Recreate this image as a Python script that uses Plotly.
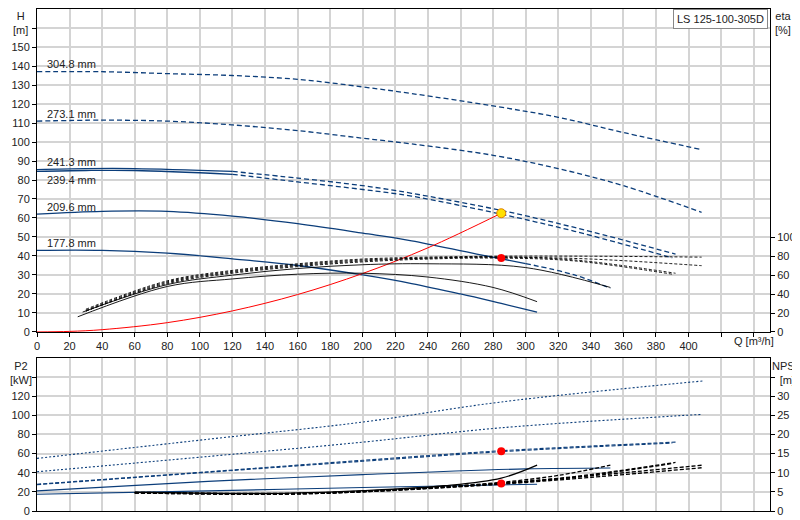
import plotly.graph_objects as go

BLUE = "#0b3d7a"
# Impeller diameters
labels = ["304.8 mm", "273.1 mm", "241.3 mm", "239.4 mm", "209.6 mm", "177.8 mm"]

# H-Q curves
hq_q = [
    [0, 40, 80, 120, 160, 200, 230, 280, 320, 360, 408],
    [0, 40, 80, 120, 160, 200, 230, 280, 320, 360, 408],
    [0, 30, 60, 120, 160, 200, 230, 285, 330, 392],
    [0, 30, 60, 120, 160, 200, 230, 285, 330, 390],
    [0, 40, 80, 120, 160, 200, 230, 270, 300, 330, 352],
    [0, 40, 80, 120, 160, 200, 230, 260, 285, 307],
]
hq_h = [
    [137, 137, 136, 135, 133, 129, 125.5, 119, 113, 105, 96],
    [111, 111.5, 111, 109, 106, 102, 99, 93, 86, 77, 63],
    [85.5, 86, 86, 84.5, 81, 77, 73, 64, 55, 41],
    [84.5, 85, 85, 83, 79, 75, 71.5, 62, 53, 39],
    [62, 63.5, 63.5, 61, 57, 52, 48, 41, 36, 30, 23],
    [43, 43, 41.5, 38.5, 35, 30, 25.5, 20, 15, 10.5],
]
solid_until = [0, 0, 120, 120, 300, 400]

# Efficiency curves
eta_q = [
    [30, 80, 120, 160, 200, 240, 285, 340, 408],
    [30, 80, 120, 160, 200, 240, 285, 340, 408],
    [30, 80, 120, 160, 200, 240, 285, 330, 392],
    [30, 80, 120, 160, 200, 240, 285, 330, 390],
    [28, 80, 120, 160, 200, 240, 300, 352],
    [25, 80, 120, 160, 200, 240, 280, 307],
]
eta_v = [
    [24, 54, 65, 72, 77, 79, 80, 80, 79],
    [23, 53, 64, 71, 76, 78, 79, 77, 70],
    [22, 52, 63, 70, 75, 78, 79, 76, 62],
    [22, 51, 62, 69, 74, 77, 78, 75, 61],
    [21, 50, 60, 67, 71, 72, 68, 47],
    [16, 48, 56, 61, 62, 58, 47, 32],
]

# P2 curves
p2_q = [
    [0, 105, 200, 285, 409],
    [0, 105, 200, 285, 408],
    [0, 105, 200, 285, 392],
    [0, 105, 200, 285, 390],
    [0, 105, 200, 300, 352],
    [0, 105, 200, 307],
]
p2_v = [
    [55, 75, 93, 114, 136],
    [41, 57, 72, 87, 101],
    [28, 41, 53, 63, 72],
    [27.5, 40.5, 52, 62, 71],
    [21, 31, 38, 44, 45],
    [17.5, 21, 24.5, 28],
]

# NPSH curves
npsh_q = [
    [60, 150, 200, 250, 285, 340, 409],
    [60, 150, 200, 250, 285, 340, 408],
    [60, 150, 200, 250, 285, 330, 392],
    [60, 150, 200, 250, 285, 330, 390],
    [60, 150, 200, 250, 285, 320, 352],
    [60, 150, 200, 250, 285, 307],
]
npsh_v = [
    [4.8, 4.5, 5.1, 6.2, 7.2, 9.2, 12],
    [4.7, 4.4, 5.0, 6.1, 7.0, 8.8, 11.3],
    [4.8, 4.5, 5.1, 6.3, 7.3, 9.0, 12.7],
    [4.7, 4.4, 5.0, 6.2, 7.2, 8.8, 12.4],
    [4.9, 4.6, 5.2, 6.4, 7.5, 9.3, 12],
    [4.9, 4.6, 5.3, 6.6, 8.6, 12],
]

sys_q = [0, 20, 40, 80, 120, 160, 200, 240, 285]
sys_h = [0, 0.3, 1.2, 4.9, 11.1, 19.7, 30.8, 44.3, 62.5]
duty_q = 285
duty_h = 62.5
duty_eta = 78
duty_p2 = 62.5
duty_npsh = 7.2

fig = go.Figure()

def split(qs, vs, lim):
    a = [(q, v) for q, v in zip(qs, vs) if q <= lim]
    b = [(q, v) for q, v in zip(qs, vs) if q >= lim or (a and q == a[-1][0])]
    return a, b

for i in range(6):
    a, b = split(hq_q[i], hq_h[i], solid_until[i])
    if len(a) > 1:
        fig.add_trace(go.Scatter(x=[p[0] for p in a], y=[p[1] for p in a], mode="lines",
                                 line=dict(color=BLUE, width=1.3, shape="spline"), xaxis="x", yaxis="y"))
    if len(b) > 1:
        fig.add_trace(go.Scatter(x=[p[0] for p in b], y=[p[1] for p in b], mode="lines",
                                 line=dict(color=BLUE, width=1.3, dash="5px,3px", shape="spline"), xaxis="x", yaxis="y"))
    fig.add_annotation(x=5, y=hq_h[i][0] + (-4.5 if i == 3 else 4), text=labels[i], showarrow=False,
                       xanchor="left", xref="x", yref="y", font=dict(size=11, color="#222"))
    fig.add_trace(go.Scatter(x=eta_q[i], y=eta_v[i], mode="lines",
                             line=dict(color="black", width=0.9, dash="solid" if i >= 4 else "3px,2px", shape="spline"),
                             xaxis="x", yaxis="y3"))
    fig.add_trace(go.Scatter(x=p2_q[i], y=p2_v[i], mode="lines",
                             line=dict(color=BLUE, width=1.1, dash="2px,2px" if i < 2 else ("4px,2px" if i < 4 else "solid"), shape="spline"),
                             xaxis="x2", yaxis="y2"))
    fig.add_trace(go.Scatter(x=npsh_q[i], y=npsh_v[i], mode="lines",
                             line=dict(color="black", width=1.3, dash="solid" if i == 5 else "4px,2px", shape="spline"),
                             xaxis="x2", yaxis="y4"))

fig.add_trace(go.Scatter(x=sys_q, y=sys_h, mode="lines", line=dict(color="red", width=1, shape="spline"),
                         xaxis="x", yaxis="y"))
fig.add_trace(go.Scatter(x=[duty_q], y=[duty_h], mode="markers",
                         marker=dict(color="#ffe000", size=9, line=dict(color="#e08000", width=1)), xaxis="x", yaxis="y"))
fig.add_trace(go.Scatter(x=[duty_q], y=[duty_eta], mode="markers", marker=dict(color="red", size=8), xaxis="x", yaxis="y3"))
fig.add_trace(go.Scatter(x=[duty_q], y=[duty_p2], mode="markers", marker=dict(color="red", size=8), xaxis="x2", yaxis="y2"))
fig.add_trace(go.Scatter(x=[duty_q], y=[duty_npsh], mode="markers", marker=dict(color="red", size=8), xaxis="x2", yaxis="y4"))

grid = "#d4d4d4"
font = dict(family="Liberation Sans, Arial", size=11, color="#222")
xticks = list(range(0, 460, 20))
xtext = [str(v) if v <= 400 else "" for v in xticks]
ax = dict(showline=True, linecolor="black", linewidth=1, gridcolor=grid, gridwidth=1.5, zeroline=False,
          ticks="outside", ticklen=4, tickcolor="black", automargin=False)
fig.update_layout(
    width=800, height=520, margin=dict(l=29, r=38, t=0, b=0), showlegend=False,
    plot_bgcolor="white", paper_bgcolor="white", font=font,
    xaxis=dict(ax, domain=[0, 1], range=[0, 450], tickvals=xticks, ticktext=xtext, anchor="y", mirror=True),
    yaxis=dict(ax, domain=[0.377, 0.998], range=[0, 170], tickvals=list(range(0, 170, 10)),
               ticktext=[str(v) if v <= 150 else "" for v in range(0, 170, 10)], anchor="x"),
    yaxis3=dict(ax, overlaying="y", side="right", range=[0, 341], tickvals=[0, 20, 40, 60, 80, 100],
                showgrid=False, anchor="x"),
    xaxis2=dict(ax, domain=[0, 1], range=[0, 450], tickvals=xticks, showticklabels=False, ticks="",
                anchor="y2", mirror=True),
    yaxis2=dict(ax, domain=[0.0327, 0.327], range=[0, 160], tickvals=list(range(0, 160, 20)),
                ticktext=[str(v) if v <= 120 else "" for v in range(0, 160, 20)], anchor="x2"),
    yaxis4=dict(ax, overlaying="y2", side="right", range=[0, 40], tickvals=list(range(0, 40, 5)),
                ticktext=[str(v) if v <= 30 else "" for v in range(0, 40, 5)], showgrid=False, anchor="x2"),
)
fig.add_annotation(x=-0.022, y=1, xref="paper", yref="paper", text="H<br>[m]", showarrow=False,
                   xanchor="center", yanchor="top", font=font)
fig.add_annotation(x=1.004, y=1, xref="paper", yref="paper", text="eta<br>[%]", showarrow=False,
                   xanchor="left", yanchor="top", font=font)
fig.add_annotation(x=-0.022, y=0.327, xref="paper", yref="paper", text="P2<br>[kW]", showarrow=False,
                   xanchor="center", yanchor="top", font=font)
fig.add_annotation(x=1.0, y=0.327, xref="paper", yref="paper", text="NPSH<br>[m]", showarrow=False,
                   xanchor="left", yanchor="top", font=font)
fig.add_annotation(x=440, y=0, xref="x", yref="y", text="Q [m³/h]", showarrow=False, yshift=-9,
                   xanchor="center", font=font)
fig.add_annotation(x=1, y=1, xref="paper", yref="paper", text="LS 125-100-305D", showarrow=False,
                   xanchor="right", yanchor="top", bordercolor="#888", borderwidth=1, bgcolor="white",
                   borderpad=3, xshift=-2, yshift=-1, font=font)
fig.write_html("out.html")
